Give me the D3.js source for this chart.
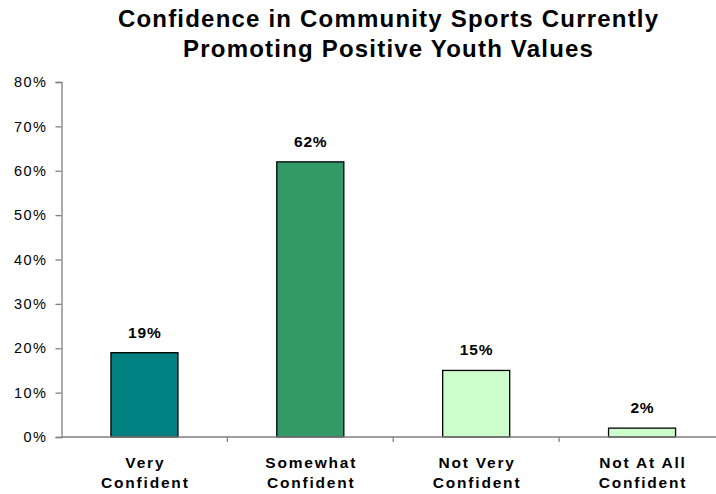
<!DOCTYPE html>
<html>
<head>
<meta charset="utf-8">
<script src="https://cdn.jsdelivr.net/npm/d3@7"></script>
<style>
  html, body { margin: 0; padding: 0; background: #fff; }
  svg { display: block; font-family: "Liberation Sans", Arial, Helvetica, sans-serif; }
</style>
</head>
<body>
<svg id="chart" width="716" height="494"></svg>
<script>
// Survey responses: share of respondents per confidence level
const categories = [["Very", "Confident"], ["Somewhat", "Confident"], ["Not Very", "Confident"], ["Not At All", "Confident"]];
const values = [19, 62, 15, 2];
const barColors = ["#008080", "#339966", "#CCFFCC", "#CCFFCC"];
const yTicks = [0, 10, 20, 30, 40, 50, 60, 70, 80];
const titleLines = ["Confidence in Community Sports Currently", "Promoting Positive Youth Values"];

const svg = d3.select("#chart");
const plot = { left: 61.5, right: 725, top: 82, bottom: 437 };

const x = d3.scaleBand()
  .domain(d3.range(categories.length))
  .range([plot.left, plot.right])
  .paddingInner(0.596)
  .paddingOuter(0.298);

const y = d3.scaleLinear().domain([0, 80]).range([plot.bottom, plot.top]);

// Title
const titleSpacing = 1.2;
svg.append("text")
  .attr("text-anchor", "middle")
  .attr("font-size", 24)
  .attr("font-weight", "bold")
  .attr("letter-spacing", titleSpacing)
  .selectAll("tspan")
  .data(titleLines)
  .join("tspan")
  .attr("x", 388 + titleSpacing / 2)
  .attr("y", (d, i) => 27 + i * 30)
  .text(d => d);

// Y axis
const yAxis = svg.append("g")
  .attr("transform", `translate(${plot.left},0)`)
  .call(d3.axisLeft(y).tickValues(yTicks).tickFormat(d => d + "%").tickSize(6).tickPadding(8));
yAxis.select(".domain").attr("stroke", "#808080").attr("stroke-width", 1.3);
yAxis.selectAll(".tick line").attr("stroke", "#808080").attr("stroke-width", 1.3);
yAxis.selectAll(".tick text")
  .attr("font-size", 14.5)
  .attr("letter-spacing", 1.5)
  .attr("fill", "#000")
  .attr("font-family", "'Liberation Sans', Arial, sans-serif");

// Bars
svg.append("g")
  .selectAll("rect")
  .data(values)
  .join("rect")
  .attr("x", (d, i) => x(i))
  .attr("y", d => y(d))
  .attr("width", x.bandwidth())
  .attr("height", d => y(0) - y(d))
  .attr("fill", (d, i) => barColors[i])
  .attr("stroke", "#000")
  .attr("stroke-width", 1.3);

// X axis baseline with category separators
svg.append("line")
  .attr("x1", plot.left).attr("x2", plot.right)
  .attr("y1", y(0)).attr("y2", y(0))
  .attr("stroke", "#808080").attr("stroke-width", 1.3);

svg.append("g")
  .selectAll("line")
  .data(d3.range(1, categories.length))
  .join("line")
  .attr("x1", i => x(i) - x.step() * x.paddingInner() / 2)
  .attr("x2", i => x(i) - x.step() * x.paddingInner() / 2)
  .attr("y1", y(0)).attr("y2", y(0) + 5)
  .attr("stroke", "#808080").attr("stroke-width", 1.3);

// Value labels
const valueSpacing = 0.8;
svg.append("g")
  .selectAll("text")
  .data(values)
  .join("text")
  .attr("x", (d, i) => x(i) + x.bandwidth() / 2 + valueSpacing / 2)
  .attr("y", d => y(d) - 15)
  .attr("text-anchor", "middle")
  .attr("font-size", 15.5)
  .attr("font-weight", "bold")
  .attr("letter-spacing", valueSpacing)
  .text(d => d + "%");

// Category labels
const catSpacing = 1.8;
const catG = svg.append("g")
  .selectAll("text")
  .data(categories)
  .join("text")
  .attr("text-anchor", "middle")
  .attr("font-size", 15.5)
  .attr("font-weight", "bold")
  .attr("letter-spacing", catSpacing);
catG.selectAll("tspan")
  .data((d, i) => d.map(t => ({ t, i })))
  .join("tspan")
  .attr("x", d => x(d.i) + x.bandwidth() / 2 + catSpacing / 2)
  .attr("y", (d, j) => 468 + j * 20)
  .text(d => d.t);
</script>
</body>
</html>
